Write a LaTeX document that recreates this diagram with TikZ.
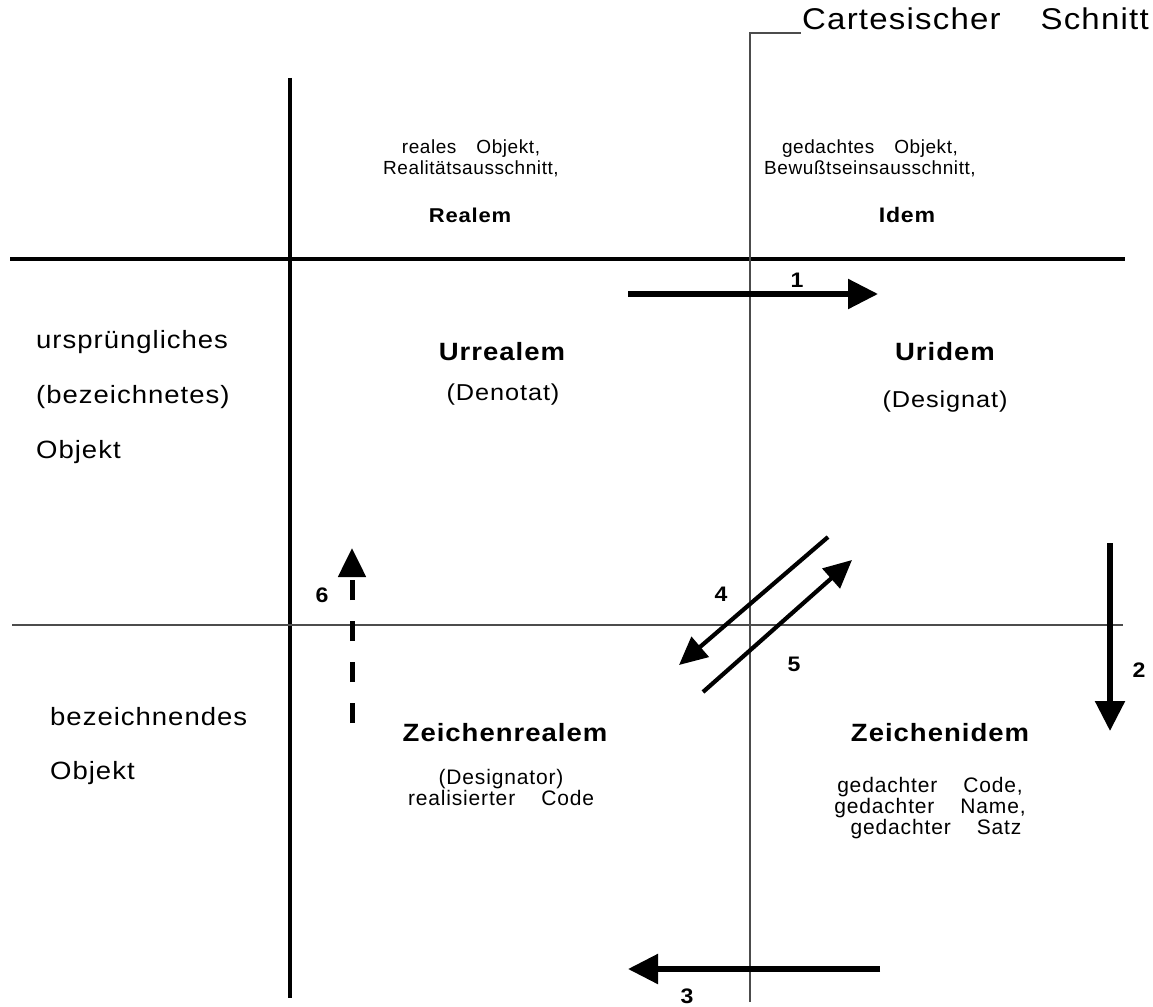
\documentclass[tikz,border=0pt]{standalone}
\usepackage{fontspec}
\setmainfont[FakeStretch=1.1,LetterSpace=4]{Liberation Sans}
\newfontfamily\plainsans[LetterSpace=3]{Liberation Sans}
\newfontfamily\plainsansb[LetterSpace=4]{Liberation Sans}
\usetikzlibrary{arrows.meta}
\begin{document}
\begin{tikzpicture}[x=1pt,y=-1pt,
  axisthick/.style={line width=4pt, line cap=butt},
  axisthin/.style={line width=1.3pt, draw=black!70},
  bigarrow/.style={line width=5.5pt, -{Triangle[length=30pt,width=29pt]}},
  diagarrow/.style={line width=4.2pt, -{Triangle[length=28pt,width=26pt]}},
  dasharrow/.style={line width=5pt, dash pattern=on 20pt off 21pt, -{Triangle[length=29pt,width=27pt]}},
  num/.style={font=\fontsize{21}{24}\selectfont\bfseries, inner sep=0pt},
  small/.style={font=\plainsans\fontsize{19}{21}\selectfont, align=center, inner sep=0pt},
  lower/.style={font=\plainsansb\fontsize{21}{21}\selectfont, align=center, inner sep=0pt},
  side/.style={font=\fontsize{25}{28}\selectfont, inner sep=0pt, anchor=west},
  paren/.style={font=\fontsize{23}{26}\selectfont, inner sep=0pt},
  head/.style={font=\fontsize{21}{24}\selectfont\bfseries, inner sep=0pt},
  mainhead/.style={font=\fontsize{25}{28}\selectfont\bfseries, inner sep=0pt},
]
\useasboundingbox (0,0) rectangle (1153,1006);
\fill[white] (0,0) rectangle (1153,1006);

% axes
\coordinate (vtT) at (290,78);
\coordinate (vtB) at (290,998);
\coordinate (htL) at (10,259);
\coordinate (htR) at (1125,259);
\coordinate (hnL) at (12,625);
\coordinate (hnR) at (1123,625);
\coordinate (vnB) at (750,1002);
\coordinate (vnT) at (750,33);
\coordinate (vnE) at (801,33);

\draw[axisthick] (vtT) -- (vtB);
\draw[axisthick] (htL) -- (htR);
\draw[axisthin] (hnL) -- (hnR);
\draw[axisthin] (vnB) -- (vnT) -- (vnE);

\node[anchor=west, inner sep=0pt, font=\fontsize{30}{33}\selectfont] (cs) at (802,19) {Cartesischer\hspace{40pt}Schnitt};

% top row
\node[small] (ro) at (471,158) {reales\hspace{20pt}Objekt,\\Realitätsausschnitt,};
\node[head, font=\fontsize{20}{24}\selectfont\bfseries] (realem) at (470,215) {Realem};
\node[small] (go) at (870,158) {gedachtes\hspace{20pt}Objekt,\\Bewußtseinsausschnitt,};
\node[head] (idem) at (907,215) {Idem};

% left labels
\node[side] (l1) at (36,342) {ursprüngliches};
\node[side] (l2) at (36,397) {(bezeichnetes)};
\node[side] (l3) at (36,452) {Objekt};
\node[side] (l4) at (50,717) {bezeichnendes};
\node[side] (l5) at (50,773) {Objekt};

% middle row
\node[mainhead] (urrealem) at (502,352) {Urrealem};
\node[paren] (denotat) at (503,395) {(Denotat)};
\node[mainhead] (uridem) at (945,352) {Uridem};
\node[paren] (designat) at (945,402) {(Designat)};

% bottom row
\node[mainhead] (zr) at (505,733) {Zeichenrealem};
\node[lower] (zrt) at (501,787) {(Designator)\\realisierter\hspace{26pt}Code};
\node[mainhead] (zi) at (940,733) {Zeichenidem};
\node[lower] (zi1) at (930,787) {gedachter\hspace{26pt}Code,};
\node[lower] (zi2) at (930,808) {gedachter\hspace{26pt}Name,};
\node[lower] (zi3) at (936,829) {gedachter\hspace{26pt}Satz};

% arrows
\coordinate (a1s) at (628,294);
\coordinate (a1e) at (878,294);
\draw[bigarrow] (a1s) -- (a1e);
\node[num] (n1) at (797,280) {1};

\coordinate (a2s) at (1110,543);
\coordinate (a2e) at (1110,731);
\draw[bigarrow] (a2s) -- (a2e);
\node[num] (n2) at (1139,670) {2};

\coordinate (a3s) at (880,969);
\coordinate (a3e) at (628,969);
\draw[bigarrow] (a3s) -- (a3e);
\node[num] (n3) at (687,996) {3};

\coordinate (a4s) at (828,537);
\coordinate (a4e) at (679,665);
\draw[diagarrow] (a4s) -- (a4e);
\node[num] (n4) at (721,594) {4};

\coordinate (a5s) at (703,692);
\coordinate (a5e) at (852,560);
\draw[diagarrow] (a5s) -- (a5e);
\node[num] (n5) at (794,664) {5};

\coordinate (a6s) at (352,723);
\coordinate (a6e) at (352,548);
\draw[dasharrow] (a6s) -- (a6e);
\node[num] (n6) at (322,595) {6};
\end{tikzpicture}
\end{document}
